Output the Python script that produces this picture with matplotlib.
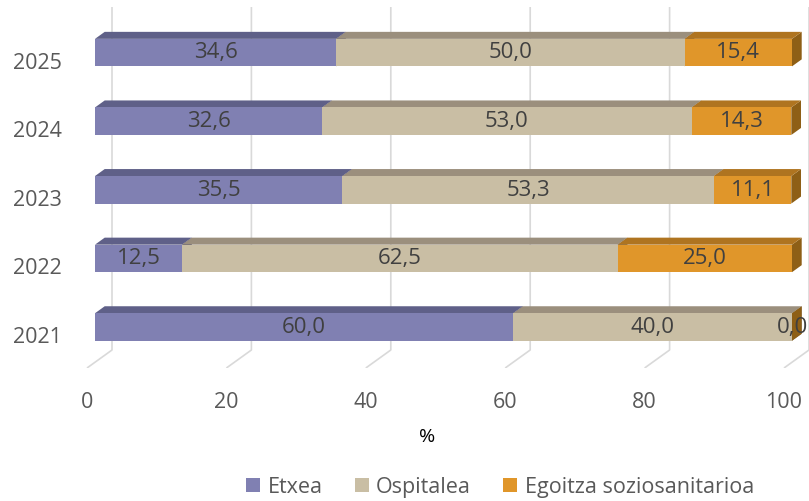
import numpy as np
import matplotlib
matplotlib.use("Agg")
import matplotlib.pyplot as plt
from matplotlib.patches import Polygon, Patch

plt.rcParams['font.family'] = ['Open Sans', 'DejaVu Sans']

# ---- data ----
years = ['2021', '2022', '2023', '2024', '2025']
series_names = ['Etxea', 'Ospitalea', 'Egoitza soziosanitarioa']
etxea = [60.0, 12.5, 35.5, 32.6, 34.6]
ospitalea = [40.0, 62.5, 53.3, 53.0, 50.0]
egoitza = [0.0, 25.0, 11.1, 14.3, 15.4]
x_ticks = [0, 20, 40, 60, 80, 100]
x_label = '%'

# ---- styles ----
front_cols = ['#8080B2', '#C9BEA4', '#E0962A']
top_cols = ['#5F6088', '#9B8F7D', '#AF7420']
side_cols = ['#4E4F72', '#84796A', '#8E5F16']
text_col = '#404040'
tick_col = '#595959'
grid_col = '#D9D9D9'

W, H = 809, 502
fig = plt.figure(figsize=(W / 100, H / 100), dpi=100)

# axes placed in pixel terms
L, T, R, B = 70, 0, 809, 369
ax = fig.add_axes([L / W, 1 - B / H, (R - L) / W, (B - T) / H])

PXX, X0 = 6.97, 95.0     # px per % unit, px of x=0 on bar front
PXY, Y0 = 68.6, 328.0    # px per category, px of first category centre
ax.set_xlim((L - X0) / PXX, (R - X0) / PXX)
ax.set_ylim((Y0 - B) / PXY, (Y0 - T) / PXY)

bar_h = 27.5 / PXY
bar_dx = 9.7 / PXX
bar_dy = 7.0 / PXY
wall_dx = 17.0 / PXX
floor_dx = -8.0 / PXX
y_grid_top = (Y0 - 8) / PXY
y_back_floor = (Y0 - 351) / PXY
y_front_floor = (Y0 - 369) / PXY

# gridlines on back wall + floor diagonals
for v in x_ticks:
    ax.plot([v + wall_dx, v + wall_dx, v + floor_dx],
            [y_grid_top, y_back_floor, y_front_floor],
            color=grid_col, lw=1.2, zorder=1, solid_capstyle='butt')

ypos = np.arange(len(years))
data = [etxea, ospitalea, egoitza]
left = np.zeros(len(years))
for k, vals in enumerate(data):
    vals = np.array(vals)
    base = 3 + 3 * k
    for i, (l, w) in enumerate(zip(left, vals)):
        yb = ypos[i] - bar_h / 2
        yt = ypos[i] + bar_h / 2
        xe = l + w
        side = Polygon([(xe, yb), (xe, yt), (xe + bar_dx, yt + bar_dy), (xe + bar_dx, yb + bar_dy)],
                       closed=True, facecolor=side_cols[k], edgecolor='none', zorder=base)
        ax.add_patch(side)
        top = Polygon([(l, yt), (xe, yt), (xe + bar_dx, yt + bar_dy), (l + bar_dx, yt + bar_dy)],
                      closed=True, facecolor=top_cols[k], edgecolor='none', zorder=base + 1)
        ax.add_patch(top)
    ax.barh(ypos, vals, left=left, height=bar_h, color=front_cols[k],
            edgecolor='none', zorder=base + 2, label=series_names[k])
    labels = [f"{v:.1f}".replace('.', ',') for v in vals]
    for i, (l, w) in enumerate(zip(left, vals)):
        ax.text(l + w / 2, ypos[i] + 0.01, labels[i], ha='center', va='center',
                fontsize=16, color=text_col, zorder=20)
    left = left + vals

# axes ticks
ax.set_xticks(np.array(x_ticks) + floor_dx)
ax.set_xticklabels([str(v) for v in x_ticks])
ax.set_yticks(ypos - 7.0 / PXY)
ax.set_yticklabels(years)
ax.tick_params(axis='x', length=0, pad=16.5, labelsize=15.5, labelcolor=tick_col)
ax.tick_params(axis='y', length=0, pad=5.8, labelsize=15.5, labelcolor=tick_col)
for s in ax.spines.values():
    s.set_visible(False)
ax.set_facecolor('none')

fig.text(427 / W, 1 - 437 / H, x_label, ha='center', va='center', fontsize=14, color='black')

handles = [Patch(facecolor=c, edgecolor='none') for c in front_cols]
fig.legend(handles, series_names, loc='center', bbox_to_anchor=(500 / W, 1 - 488 / H),
           ncol=3, frameon=False, fontsize=15.5, handlelength=0.65, handleheight=0.65,
           handletextpad=0.35, columnspacing=1.5, labelcolor=tick_col)

fig.savefig('out.png', dpi=100)
